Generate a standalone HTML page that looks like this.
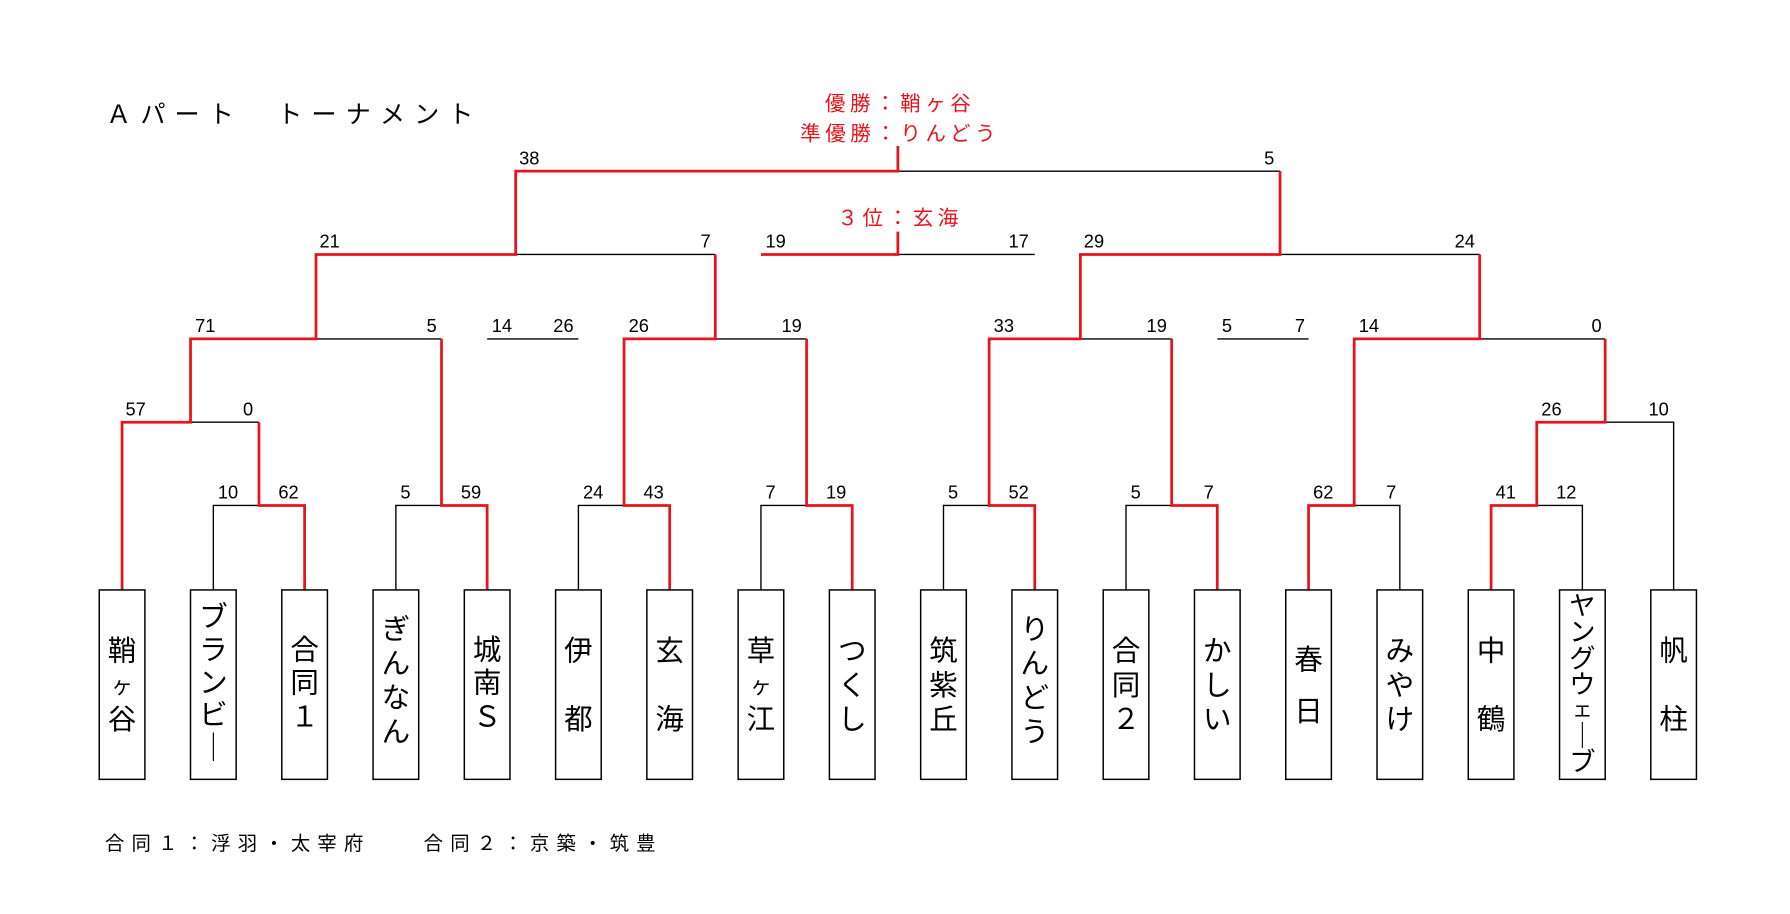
<!DOCTYPE html>
<html><head><meta charset="utf-8"><style>
html,body{margin:0;padding:0;background:#fff;}
svg{display:block;}
text{font-family:"Liberation Sans","Noto Sans CJK JP",sans-serif;}
.s{font-size:16px;fill:#000;font-family:"Liberation Sans Narrow","Liberation Sans",sans-serif;}
.n{font-size:25px;fill:#000;text-anchor:middle;dominant-baseline:central;}
.k{stroke:#000;stroke-width:1.2;fill:none;}
.r{stroke:#e8141c;stroke-width:2.4;fill:none;}
.b{stroke:#000;stroke-width:1.3;fill:#fff;}
.red{fill:#e8141c;font-size:18px;text-anchor:middle;letter-spacing:4px;}
</style></head><body>
<svg width="1790" height="914" viewBox="0 0 1569 801" preserveAspectRatio="none" xmlns="http://www.w3.org/2000/svg">
<text x="93" y="108" style="font-size:22px;letter-spacing:8px">Ａパート　トーナメント</text>
<text x="789" y="97" class="red">優勝：鞘ヶ谷</text>
<text x="789" y="123" class="red">準優勝：りんどう</text>
<text x="789" y="197" class="red">３位：玄海</text>
<text x="92" y="745" style="font-size:17px;letter-spacing:6.3px">合同１：浮羽・太宰府　　合同２：京築・筑豊</text>

<g class="k">
<path d="M187 517V443H227"/><path d="M347 517V443H387"/><path d="M507 517V443H547"/><path d="M667 517V443H707"/>
<path d="M827 517V443H867"/><path d="M987 517V443H1027"/><path d="M1187 443H1227V517"/><path d="M1347 443H1387V517"/>
<path d="M167 370H227"/><path d="M1407 370H1467V517"/>
<path d="M277 297H387"/><path d="M627 297H707"/><path d="M947 297H1027"/><path d="M1297 297H1407"/>
<path d="M427 297H507"/><path d="M1067 297H1147"/>
<path d="M452 223H627"/><path d="M1122 223H1297"/>
<path d="M787 223H907"/>
<path d="M787 150H1122"/>
</g>
<g class="r">
<path d="M107 517V370H167V297H277V223H452V150H787V128"/>
<path d="M267 517V443H227V370"/>
<path d="M427 517V443H387V297"/>
<path d="M587 517V443H547V297H627V223"/>
<path d="M747 517V443H707V297"/>
<path d="M907 517V443H867V297H947V223H1122V150"/>
<path d="M1067 517V443H1027V297"/>
<path d="M1147 517V443H1187V297H1297V223"/>
<path d="M1307 517V443H1347V370H1407V297"/>
<path d="M667 223H787V203"/>
</g>

<g class="s">
<text x="455" y="144">38</text><text x="1108" y="144">5</text>
<text x="280" y="217">21</text><text x="614" y="217">7</text>
<text x="671" y="217">19</text><text x="884" y="217">17</text>
<text x="950" y="217">29</text><text x="1275" y="217">24</text>
<text x="171" y="291">71</text><text x="374" y="291">5</text>
<text x="431" y="291">14</text><text x="485" y="291">26</text>
<text x="551" y="291">26</text><text x="685" y="291">19</text>
<text x="871" y="291">33</text><text x="1005" y="291">19</text>
<text x="1071" y="291">5</text><text x="1135" y="291">7</text>
<text x="1191" y="291">14</text><text x="1395" y="291">0</text>
<text x="110" y="364">57</text><text x="213" y="364">0</text>
<text x="1351" y="364">26</text><text x="1445" y="364">10</text>
<text x="191" y="437">10</text><text x="244" y="437">62</text>
<text x="351" y="437">5</text><text x="404" y="437">59</text>
<text x="511" y="437">24</text><text x="564" y="437">43</text>
<text x="671" y="437">7</text><text x="724" y="437">19</text>
<text x="831" y="437">5</text><text x="884" y="437">52</text>
<text x="991" y="437">5</text><text x="1055" y="437">7</text>
<text x="1151" y="437">62</text><text x="1215" y="437">7</text>
<text x="1311" y="437">41</text><text x="1364" y="437">12</text>
</g>

<g class="b">
<rect x="87" y="517" width="40" height="166"/><rect x="167" y="517" width="40" height="166"/>
<rect x="247" y="517" width="40" height="166"/><rect x="327" y="517" width="40" height="166"/>
<rect x="407" y="517" width="40" height="166"/><rect x="487" y="517" width="40" height="166"/>
<rect x="567" y="517" width="40" height="166"/><rect x="647" y="517" width="40" height="166"/>
<rect x="727" y="517" width="40" height="166"/><rect x="807" y="517" width="40" height="166"/>
<rect x="887" y="517" width="40" height="166"/><rect x="967" y="517" width="40" height="166"/>
<rect x="1047" y="517" width="40" height="166"/><rect x="1127" y="517" width="40" height="166"/>
<rect x="1207" y="517" width="40" height="166"/><rect x="1287" y="517" width="40" height="166"/>
<rect x="1367" y="517" width="40" height="166"/><rect x="1447" y="517" width="40" height="166"/>
</g>

<g class="n">
<text x="107" y="571">鞘</text><text x="107" y="601" style="font-size:19px">ヶ</text><text x="107" y="631">谷</text>
<text x="187" y="541">ブ</text><text x="187" y="570">ラ</text><text x="187" y="599">ン</text><text x="187" y="627">ビ</text><text x="187" y="656">｜</text>
<text x="267" y="570">合</text><text x="267" y="599">同</text><text x="267" y="629">１</text>
<text x="347" y="552">ぎ</text><text x="347" y="582">ん</text><text x="347" y="612">な</text><text x="347" y="642">ん</text>
<text x="427" y="570">城</text><text x="427" y="599">南</text><text x="427" y="629">Ｓ</text>
<text x="507" y="571">伊</text><text x="507" y="631">都</text>
<text x="587" y="571">玄</text><text x="587" y="631">海</text>
<text x="667" y="571">草</text><text x="667" y="601" style="font-size:19px">ヶ</text><text x="667" y="631">江</text>
<text x="747" y="571">つ</text><text x="747" y="601">く</text><text x="747" y="631">し</text>
<text x="827" y="571">筑</text><text x="827" y="601">紫</text><text x="827" y="631">丘</text>
<text x="907" y="552">り</text><text x="907" y="582">ん</text><text x="907" y="612">ど</text><text x="907" y="642">う</text>
<text x="987" y="571">合</text><text x="987" y="601">同</text><text x="987" y="631">２</text>
<text x="1067" y="571">か</text><text x="1067" y="601">し</text><text x="1067" y="631">い</text>
<text x="1147" y="579">春</text><text x="1147" y="624">日</text>
<text x="1227" y="571">み</text><text x="1227" y="601">や</text><text x="1227" y="631">け</text>
<text x="1307" y="571">中</text><text x="1307" y="631">鶴</text>
<g style="font-size:23px"><text x="1387" y="531">ヤ</text><text x="1387" y="554">ン</text><text x="1387" y="577">グ</text><text x="1387" y="600">ウ</text><text x="1387" y="622" style="font-size:18px">ェ</text><text x="1387" y="645">｜</text><text x="1387" y="668">ブ</text></g>
<text x="1467" y="571">帆</text><text x="1467" y="631">柱</text>
</g>
</svg>
</body></html>
